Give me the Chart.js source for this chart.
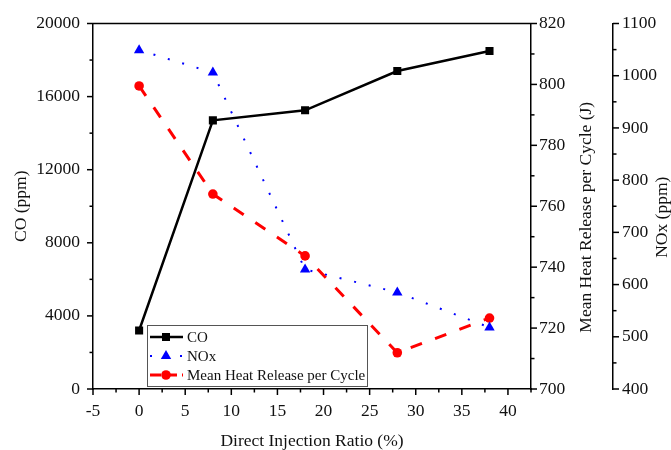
<!DOCTYPE html>
<html>
<head>
<meta charset="utf-8">
<script src="https://cdn.jsdelivr.net/npm/chart.js@4"></script>
<style>
  html, body { margin: 0; padding: 0; background: #fff; }
</style>
</head>
<body>
<canvas id="chart" width="671" height="450"></canvas>
<script>
const injectionRatio = [0, 8, 18, 28, 38];
const coPpm = [3200, 14700, 15250, 17400, 18500];
const noxPpm = [1049, 1006, 629, 585, 518];
const heatRelease = [799.5, 764, 743.7, 711.9, 723.3];

const xTicks = { min: -5, max: 42.5, step: 5, last: 40 };
const coTicks = { min: 0, max: 20000, step: 4000 };
const heatTicks = { min: 700, max: 820, step: 20 };
const noxTicks = { min: 400, max: 1100, step: 100 };

const FONT = "'Liberation Serif', 'Times New Roman', serif";
const tickFont = { family: FONT, size: 17.5 };
const titleFont = { family: FONT, size: 17.5 };
const plain = (v) => String(v);
const noGrid = { display: false, drawTicks: false };

const toPoints = (ys) => injectionRatio.map((x, i) => ({ x, y: ys[i] }));

const steps = { x: xTicks.step, yCO: coTicks.step, yHeat: heatTicks.step, yNOx: noxTicks.step };

// ticks, top frame, right-hand titles and the boxed legend
const decorations = {
  id: "decorations",
  afterDraw(chart) {
    const ctx = chart.ctx;
    const area = chart.chartArea;
    ctx.save();
    ctx.strokeStyle = "#000";
    ctx.lineWidth = 1.5;
    ctx.beginPath();
    ctx.moveTo(area.left, area.top);
    ctx.lineTo(area.right, area.top);
    ctx.stroke();

    for (const id of Object.keys(steps)) {
      const s = chart.scales[id];
      const step = steps[id];
      for (let v = s.min; v <= s.max + 1e-9; v += step / 2) {
        const major = Math.abs(v / step - Math.round(v / step)) < 1e-6;
        const len = major ? 6 : 3.5;
        const p = s.getPixelForValue(v);
        ctx.beginPath();
        if (id === "x") {
          ctx.moveTo(p, s.top); ctx.lineTo(p, s.top + len);
        } else if (s.position === "left") {
          ctx.moveTo(s.right, p); ctx.lineTo(s.right - len, p);
        } else {
          ctx.moveTo(s.left, p); ctx.lineTo(s.left + len, p);
        }
        ctx.stroke();
      }
    }

    // right titles read bottom-to-top
    const midY = (area.top + area.bottom) / 2 + 11;
    ctx.fillStyle = "#111";
    ctx.font = `${titleFont.size}px ${FONT}`;
    ctx.textAlign = "center";
    ctx.textBaseline = "middle";
    const vText = (text, x) => {
      ctx.save();
      ctx.translate(x, midY);
      ctx.rotate(-Math.PI / 2);
      ctx.fillText(text, 0, 0);
      ctx.restore();
    };
    vText("Mean Heat Release per Cycle (J)", chart.scales.yHeat.right - 27);
    vText("NOx (ppm)", chart.scales.yNOx.right - 9);

    // legend box
    const bx = area.left + 54, by = area.bottom - 64, bw = 220, bh = 61;
    ctx.fillStyle = "#fff";
    ctx.fillRect(bx, by, bw, bh);
    ctx.strokeStyle = "#555";
    ctx.lineWidth = 1;
    ctx.strokeRect(bx + 0.5, by + 0.5, bw, bh);
    ctx.font = `15px ${FONT}`;
    ctx.textAlign = "left";
    chart.data.datasets.forEach((ds, i) => {
      const y = by + 12 + i * 19;
      ctx.save();
      ctx.strokeStyle = ds.borderColor;
      ctx.lineWidth = ds.borderWidth;
      ctx.setLineDash(ds.legendDash || []);
      ctx.beginPath();
      ctx.moveTo(bx + 3, y);
      ctx.lineTo(bx + 36, y);
      ctx.stroke();
      ctx.restore();
      ctx.fillStyle = ds.backgroundColor;
      Chart.helpers.drawPoint(ctx, { pointStyle: ds.pointStyle, radius: ds.pointRadius, borderWidth: 0 }, bx + 19, y);
      ctx.fillStyle = "#111";
      ctx.fillText(ds.label, bx + 40, y + 1);
    });
    ctx.restore();
  }
};

new Chart(document.getElementById("chart"), {
  type: "line",
  data: {
    datasets: [
      {
        label: "CO",
        data: toPoints(coPpm),
        yAxisID: "yCO",
        borderColor: "#000",
        backgroundColor: "#000",
        borderWidth: 2.5,
        pointStyle: "rect",
        pointRadius: 5.7,
        pointBorderWidth: 0,
        legendDash: []
      },
      {
        label: "NOx",
        data: toPoints(noxPpm),
        yAxisID: "yNOx",
        borderColor: "#0000ff",
        backgroundColor: "#0000ff",
        borderWidth: 2,
        borderDash: [2, 13],
        pointStyle: "triangle",
        pointRadius: 6,
        pointBorderWidth: 0,
        legendDash: [2, 13]
      },
      {
        label: "Mean Heat Release per Cycle",
        data: toPoints(heatRelease),
        yAxisID: "yHeat",
        borderColor: "#ff0000",
        backgroundColor: "#ff0000",
        borderWidth: 3,
        borderDash: [12, 14],
        pointStyle: "circle",
        pointRadius: 4.8,
        pointBorderWidth: 0,
        legendDash: [11, 5]
      }
    ]
  },
  options: {
    responsive: false,
    animation: false,
    devicePixelRatio: 1,
    layout: { padding: { top: 18, left: 0, right: 0, bottom: 0 } },
    plugins: { legend: { display: false }, tooltip: { enabled: false } },
    scales: {
      x: {
        type: "linear",
        position: "bottom",
        min: xTicks.min,
        max: xTicks.max,
        grid: noGrid,
        border: { color: "#000", width: 1.5 },
        ticks: { stepSize: xTicks.step, padding: 12, color: "#111", font: tickFont, callback: plain },
        afterBuildTicks: (s) => {
          const list = [];
          for (let v = xTicks.min; v <= xTicks.last; v += xTicks.step) list.push({ value: v });
          s.ticks = list;
        },
        afterFit: (s) => { s.height = 61; },
        title: { display: true, text: "Direct Injection Ratio (%)", color: "#111", font: { ...titleFont, lineHeight: 1 }, padding: { top: 0, bottom: 0 } }
      },
      yCO: {
        position: "left",
        min: coTicks.min,
        max: coTicks.max,
        grid: noGrid,
        border: { color: "#000", width: 1.5 },
        ticks: { stepSize: coTicks.step, padding: 13, color: "#111", font: tickFont, callback: plain },
        afterFit: (s) => { s.width = 93; },
        title: { display: true, text: "CO (ppm)", color: "#111", font: titleFont, padding: { top: 11, bottom: 0 } }
      },
      yHeat: {
        position: "right",
        min: heatTicks.min,
        max: heatTicks.max,
        grid: noGrid,
        border: { color: "#000", width: 1.5 },
        ticks: { stepSize: heatTicks.step, padding: 8, color: "#111", font: tickFont, callback: plain },
        afterFit: (s) => { s.width = 82; }
      },
      yNOx: {
        position: "right",
        min: noxTicks.min,
        max: noxTicks.max,
        grid: noGrid,
        border: { color: "#000", width: 1.5 },
        ticks: { stepSize: noxTicks.step, padding: 9, color: "#111", font: tickFont, callback: plain },
        afterFit: (s) => { s.width = 58; }
      }
    }
  },
  plugins: [decorations]
});
</script>
</body>
</html>
